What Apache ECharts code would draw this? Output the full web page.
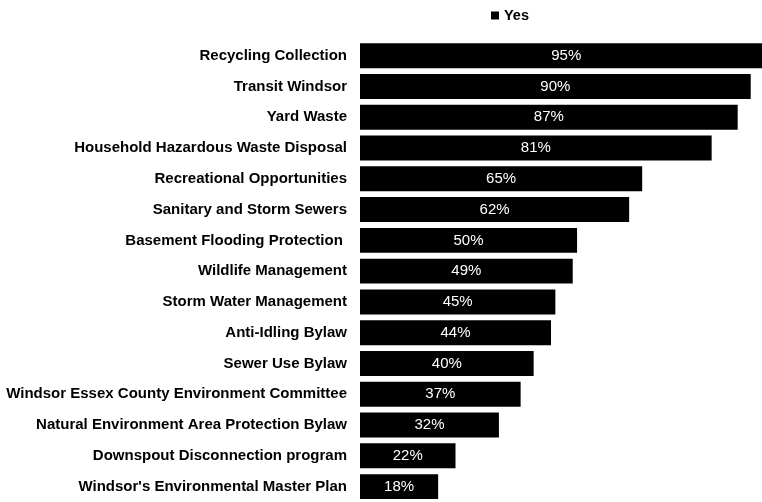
<!DOCTYPE html>
<html><head><meta charset="utf-8">
<script src="https://cdn.jsdelivr.net/npm/echarts@6/dist/echarts.min.js"></script>
<style>html,body{margin:0;padding:0;background:#fff}#c{width:762px;height:502px}</style>
</head><body><div id="c"></div>
<script>
const categories = ["Recycling Collection","Transit Windsor","Yard Waste","Household Hazardous Waste Disposal","Recreational Opportunities","Sanitary and Storm Sewers","Basement Flooding Protection ","Wildlife Management","Storm Water Management","Anti-Idling Bylaw","Sewer Use Bylaw","Windsor Essex County Environment Committee","Natural Environment Area Protection Bylaw","Downspout Disconnection program","Windsor's Environmental Master Plan"];
const yesValues = [95,90,87,81,65,62,50,49,45,44,40,37,32,22,18];
const seriesName = "Yes";

const chart = echarts.init(document.getElementById('c'), null, {renderer:'canvas'});
chart.setOption({
  animation:false,
  backgroundColor:'#fff',
  legend:{
    data:[seriesName], left:486, top:3, itemWidth:8, itemHeight:8, itemGap:2,
    icon:'rect',
    textStyle:{fontFamily:'Liberation Sans, Arial', fontWeight:'bold', fontSize:14.5, color:'#000'}
  },
  grid:{left:360, width:402, top:40.3, bottom:-1.8, containLabel:false},
  xAxis:{type:'value', min:0, max:92.6, show:false},
  yAxis:{
    type:'category', data:categories, inverse:true,
    axisLine:{show:false}, axisTick:{show:false},
    axisLabel:{margin:13, color:'#000', fontFamily:'Liberation Sans, Arial', fontWeight:'bold', fontSize:15}
  },
  series:[{
    name:seriesName, type:'bar', data:yesValues, barWidth:'81%', clip:false,
    itemStyle:{color:'#000'},
    label:{show:true, position:'inside', formatter:'{c}%', color:'#fff', fontFamily:'Liberation Sans, Arial', fontSize:15}
  }]
});
</script></body></html>
